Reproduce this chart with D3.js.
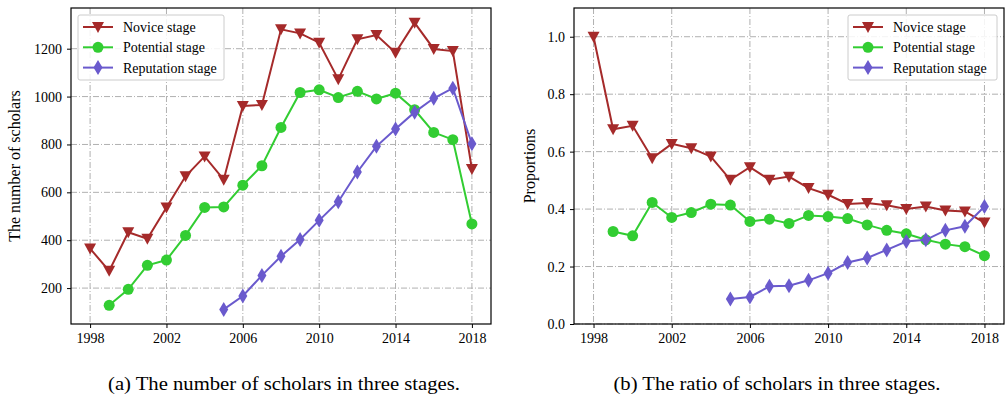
<!DOCTYPE html>
<html>
<head>
<meta charset="utf-8">
<script src="https://cdn.jsdelivr.net/npm/d3@7"></script>
<style>
  body { margin: 0; background: #fff; }
  svg, svg text { font-family: "Liberation Serif", "Times New Roman", serif; }
  .grid line { stroke: #b0b0b0; stroke-width: 1; stroke-dasharray: 6,2,1,2; }
  .tick text { font-size: 14px; fill: #000; }
</style>
</head>
<body>
<svg width="1006" height="397"></svg>
<script>
var years = d3.range(1998, 2019);

// counts (chart a)
var noviceCount = [365, 272, 433, 406, 537, 667, 750, 653, 961, 965, 1281, 1264, 1225, 1072, 1239, 1257, 1183, 1308, 1199, 1190, 697];
var potentialCount = [null, 128, 195, 295, 317, 420, 537, 539, 630, 711, 871, 1017, 1028, 996, 1022, 990, 1014, 945, 850, 820, 468];
var reputationCount = [null, null, null, null, null, null, null, 111, 167, 253, 333, 403, 483, 561, 685, 792, 865, 935, 993, 1035, 803];

// ratios (chart b)
var noviceRatio = [1.0, 0.678, 0.69, 0.577, 0.627, 0.612, 0.583, 0.502, 0.546, 0.502, 0.513, 0.473, 0.45, 0.418, 0.421, 0.413, 0.40, 0.409, 0.395, 0.392, 0.353];
var potentialRatio = [null, 0.322, 0.307, 0.423, 0.371, 0.388, 0.417, 0.414, 0.357, 0.365, 0.35, 0.378, 0.374, 0.367, 0.345, 0.326, 0.314, 0.293, 0.278, 0.269, 0.238];
var reputationRatio = [null, null, null, null, null, null, null, 0.087, 0.094, 0.131, 0.133, 0.152, 0.177, 0.214, 0.23, 0.258, 0.287, 0.293, 0.326, 0.34, 0.409];

var xTicks = [1998, 2002, 2006, 2010, 2014, 2018];
var seriesNames = ["Novice stage", "Potential stage", "Reputation stage"];
var colors = ["#a52a2a", "#32cd32", "#6a5acd"];

var svg = d3.select("svg");

function marker(g, kind, color) {
    if (kind == 0) {
        g.append("path").attr("d", "M-6,-5L6,-5L0,6Z").attr("fill", color);
    } else if (kind == 1) {
        g.append("circle").attr("r", 5.5).attr("fill", color);
    } else {
        g.append("path").attr("d", "M0,-7.5L4.5,0L0,7.5L-4.5,0Z").attr("fill", color);
    }
}

function drawChart(opt) {
    var x = d3.scaleLinear().domain([1997, 2019]).range([opt.left, opt.right]);
    var y = d3.scaleLinear().domain(opt.yDomain).range([opt.bottom, opt.top]);

    var g = svg.append("g");

    // grid
    var grid = g.append("g").attr("class", "grid");
    grid.selectAll(".gx").data(xTicks).enter().append("line")
        .attr("x1", d => x(d)).attr("x2", d => x(d))
        .attr("y1", opt.top).attr("y2", opt.bottom);
    grid.selectAll(".gy").data(opt.yTicks).enter().append("line")
        .attr("x1", opt.left).attr("x2", opt.right)
        .attr("y1", d => y(d)).attr("y2", d => y(d));

    // axes
    g.append("g").attr("transform", "translate(0," + opt.bottom + ")")
        .call(d3.axisBottom(x).tickValues(xTicks).tickFormat(d3.format("d")).tickSizeOuter(0).tickSize(4).tickPadding(5))
        .attr("font-family", null)
        .call(a => a.select(".domain").remove());
    g.append("g").attr("transform", "translate(" + opt.left + ",0)")
        .call(d3.axisLeft(y).tickValues(opt.yTicks).tickFormat(opt.fmt).tickSizeOuter(0).tickSize(4).tickPadding(5))
        .attr("font-family", null)
        .call(a => a.select(".domain").remove());

    // frame
    g.append("rect").attr("x", opt.left).attr("y", opt.top)
        .attr("width", opt.right - opt.left).attr("height", opt.bottom - opt.top)
        .attr("fill", "none").attr("stroke", "#000").attr("stroke-width", 1.2);

    // lines + markers
    opt.series.forEach(function(vals, i) {
        var pts = years.map((yr, j) => [yr, vals[j]]).filter(p => p[1] != null);
        g.append("path").datum(pts)
            .attr("fill", "none").attr("stroke", colors[i]).attr("stroke-width", 2)
            .attr("d", d3.line().x(p => x(p[0])).y(p => y(p[1])));
        pts.forEach(function(p) {
            var m = g.append("g").attr("transform", "translate(" + x(p[0]) + "," + y(p[1]) + ")");
            marker(m, i, colors[i]);
        });
    });

    // y label
    g.append("text")
        .attr("transform", "translate(" + opt.labelX + "," + ((opt.top + opt.bottom) / 2) + ") rotate(-90)")
        .attr("text-anchor", "middle").attr("font-size", 16)
        .text(opt.yLabel);

    // legend
    var lg = g.append("g").attr("transform", "translate(" + opt.legendX + ",15)");
    lg.append("rect").attr("width", opt.legendW).attr("height", 65).attr("rx", 2)
        .attr("fill", "#fff").attr("fill-opacity", 0.85).attr("stroke", "#ccc");
    seriesNames.forEach(function(name, i) {
        var row = lg.append("g").attr("transform", "translate(0," + (12 + i * 20.3) + ")");
        row.append("line").attr("x1", 5).attr("x2", 35).attr("stroke", colors[i]).attr("stroke-width", 2);
        var m = row.append("g").attr("transform", "translate(20,0)");
        marker(m, i, colors[i]);
        row.append("text").attr("x", 45).attr("y", 5).attr("font-size", 14).text(name);
    });

    // caption
    g.append("text").attr("x", opt.capX).attr("y", 390)
        .attr("font-size", 19).attr("text-anchor", "middle")
        .attr("textLength", opt.capW).attr("lengthAdjust", "spacingAndGlyphs")
        .text(opt.caption);
}

drawChart({
    left: 71, right: 491, top: 8, bottom: 324,
    yDomain: [50, 1370], yTicks: [200, 400, 600, 800, 1000, 1200], fmt: d3.format("d"),
    series: [noviceCount, potentialCount, reputationCount],
    yLabel: "The number of scholars", labelX: 20,
    legendX: 78, legendW: 146,
    caption: "(a)  The number of scholars in three stages.", capX: 284, capW: 352
});

drawChart({
    left: 574, right: 1004, top: 8, bottom: 324,
    yDomain: [0, 1.1], yTicks: [0, 0.2, 0.4, 0.6, 0.8, 1.0], fmt: d3.format(".1f"),
    series: [noviceRatio, potentialRatio, reputationRatio],
    yLabel: "Proportions", labelX: 535,
    legendX: 848, legendW: 149,
    caption: "(b)  The ratio of scholars in three stages.", capX: 777, capW: 327
});
</script>
</body>
</html>
